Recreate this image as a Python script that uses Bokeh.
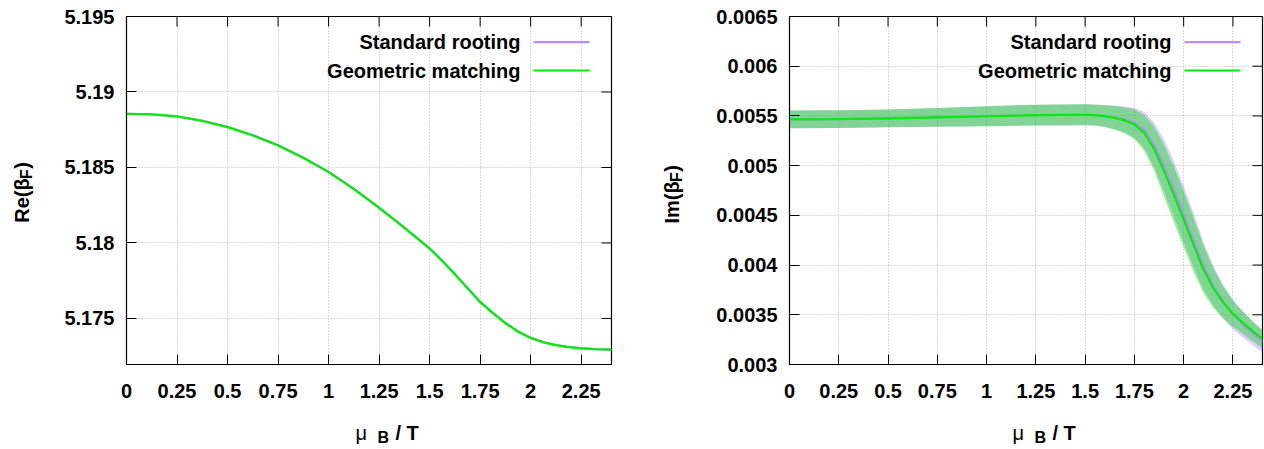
import numpy as np
from bokeh.plotting import figure
from bokeh.layouts import row, column
from bokeh.models import FixedTicker, Label, Arrow, Range1d
from bokeh.embed import file_html
from bokeh.resources import INLINE

# ---------------- data ----------------
x_re = [0.0, 0.125, 0.25, 0.375, 0.5, 0.625, 0.75, 0.875, 1.0, 1.125, 1.25,
        1.375, 1.5, 1.5625, 1.625, 1.6875, 1.75, 1.8125, 1.875, 1.9375, 2.0,
        2.0625, 2.125, 2.1875, 2.25, 2.325, 2.4]
re_geo = [5.18856, 5.18852, 5.18838, 5.18808, 5.18767, 5.18712, 5.18646, 5.18563,
          5.18469, 5.18357, 5.18233, 5.18100, 5.17962, 5.17880, 5.17792, 5.17700,
          5.17608, 5.17535, 5.17468, 5.17412, 5.17370, 5.17342, 5.17323, 5.17310,
          5.17302, 5.17296, 5.17293]
re_geo_err = [0.00002, 0.00002, 0.00002, 0.00002, 0.00002, 0.00002, 0.00002, 0.00002,
              0.00002, 0.00002, 0.00002, 0.000025, 0.000025, 0.000025, 0.00003, 0.00003,
              0.00003, 0.000035, 0.00004, 0.000045, 0.00005, 0.000055, 0.00006, 0.000065,
              0.00007, 0.00007, 0.00007]
re_std = [5.18856, 5.18852, 5.18839, 5.18810, 5.18769, 5.18715, 5.18649, 5.18566,
          5.18472, 5.18360, 5.18236, 5.18103, 5.17965, 5.17884, 5.17796, 5.17704,
          5.17612, 5.17539, 5.17472, 5.17415, 5.17373, 5.17344, 5.17324, 5.17311,
          5.17303, 5.17297, 5.17294]
re_std_err = [0.00002, 0.00002, 0.00002, 0.00002, 0.00002, 0.00002, 0.00002, 0.00002,
              0.00002, 0.00002, 0.00002, 0.000025, 0.000025, 0.000025, 0.00003, 0.00003,
              0.00003, 0.000035, 0.00004, 0.000045, 0.00005, 0.00005, 0.000055, 0.00006,
              0.00006, 0.00006, 0.00006]

x_im = [0.0, 0.25, 0.5, 0.75, 1.0, 1.25, 1.5, 1.55, 1.6, 1.65, 1.7, 1.75, 1.8,
        1.85, 1.9, 1.95, 2.0, 2.05, 2.1, 2.15, 2.2, 2.25, 2.3, 2.35, 2.4]
im_geo = [0.005465, 0.005468, 0.005475, 0.005485, 0.005497, 0.005508, 0.005512,
          0.005508, 0.005498, 0.005480, 0.005455, 0.005415, 0.005330, 0.005170,
          0.004950, 0.004710, 0.004460, 0.004205, 0.003960, 0.003770, 0.003625,
          0.003510, 0.003420, 0.003335, 0.003255]
im_geo_err = [0.00009, 0.00009, 0.00009, 0.000095, 0.0001, 0.000105, 0.000105,
              0.000105, 0.00011, 0.00012, 0.00013, 0.00015, 0.00018, 0.00022,
              0.00026, 0.00028, 0.00028, 0.00027, 0.00024, 0.0002, 0.00016,
              0.00013, 0.00011, 0.0001, 0.00009]
im_std = [0.005465, 0.005468, 0.005475, 0.005485, 0.005497, 0.005508, 0.005512,
          0.005509, 0.005501, 0.005486, 0.005465, 0.005432, 0.005360, 0.005215,
          0.005005, 0.004770, 0.004515, 0.004255, 0.004000, 0.003795, 0.003635,
          0.003505, 0.003405, 0.003315, 0.003230]
im_std_err = [0.00009, 0.00009, 0.00009, 0.000095, 0.0001, 0.000105, 0.000105,
              0.000105, 0.00011, 0.00012, 0.00013, 0.00015, 0.00018, 0.00022,
              0.00026, 0.00028, 0.00028, 0.00027, 0.00024, 0.0002, 0.00017,
              0.00015, 0.00013, 0.00012, 0.00011]

x_ticks = [0.0, 0.25, 0.5, 0.75, 1.0, 1.25, 1.5, 1.75, 2.0, 2.25]
x_tick_labels = ["0", "0.25", "0.5", "0.75", "1", "1.25", "1.5", "1.75", "2", "2.25"]
re_ticks = [5.175, 5.18, 5.185, 5.19, 5.195]
re_tick_labels = ["5.175", "5.18", "5.185", "5.19", "5.195"]
im_ticks = [0.003, 0.0035, 0.004, 0.0045, 0.005, 0.0055, 0.006, 0.0065]
im_tick_labels = ["0.003", "0.0035", "0.004", "0.0045", "0.005", "0.0055", "0.006", "0.0065"]
series_names = ["Standard rooting", "Geometric matching"]
x_max = 2.4

# ---------------- style ----------------
FONT = "Liberation Sans"
STD_FILL = "#ab82ff"
GEO_FILL = "#00dc00"
STD_LINE = "#bb8cff"
GEO_LINE = "#00ee00"
FRAME_H = 348
H1 = 410          # height of the plot row
H2 = 39           # height of the x-label row


def make_panel(width, left, right, yr, yticks, ylabels, xs, std, std_err,
               geo, geo_err, frame_w):
    p = figure(width=width, height=H1, output_backend="svg", toolbar_location=None,
               x_range=Range1d(0, x_max), y_range=Range1d(*yr),
               min_border_left=left, min_border_right=right,
               min_border_top=16, min_border_bottom=H1 - 16 - FRAME_H)
    p.background_fill_color = "white"
    p.border_fill_color = "white"
    p.outline_line_color = "black"
    p.outline_line_width = 1.2

    for g in p.grid:
        g.grid_line_color = "#b4b4b4"
        g.grid_line_dash = "1 2"
        g.grid_line_width = 1
    p.xgrid.ticker = FixedTicker(ticks=x_ticks)
    p.ygrid.ticker = FixedTicker(ticks=yticks)

    xs = np.array(xs)
    std = np.array(std); std_err = np.array(std_err)
    geo = np.array(geo); geo_err = np.array(geo_err)

    p.varea(x=xs, y1=std - std_err, y2=std + std_err, fill_color=STD_FILL, fill_alpha=0.4)
    p.varea(x=xs, y1=geo - geo_err, y2=geo + geo_err, fill_color=GEO_FILL, fill_alpha=0.41)
    p.line(xs, std, line_color=STD_LINE, line_width=2.2, line_join="round")
    p.line(xs, geo, line_color=GEO_LINE, line_width=2.2, line_join="round")

    for ax, ticks, labels in ((p.xaxis[0], x_ticks, x_tick_labels), (p.yaxis[0], yticks, ylabels)):
        ax.ticker = FixedTicker(ticks=ticks)
        ax.major_label_overrides = {t: l for t, l in zip(ticks, labels)}
        ax.major_label_text_font = FONT
        ax.major_label_text_font_style = "bold"
        ax.major_label_text_font_size = "20px"
        ax.major_label_text_color = "black"
        ax.major_tick_in = 10
        ax.major_tick_out = 0
        ax.minor_tick_line_color = None
        ax.axis_line_color = "black"
        ax.major_tick_line_color = "black"
    p.xaxis[0].major_label_standoff = 19
    p.yaxis[0].major_label_standoff = 12

    # mirrored (inward) ticks on the top and right edges, 10 px long
    p.ray(x=x_ticks, y=[yr[1]] * len(x_ticks), length=10, length_units="screen",
          angle=-np.pi / 2, line_color="black", line_width=1)
    p.ray(x=[x_max] * len(yticks), y=yticks, length=10, length_units="screen",
          angle=np.pi, line_color="black", line_width=1)

    # legend (text left of sample line, gnuplot style)
    for name, col, yy in ((series_names[0], STD_LINE, FRAME_H - 25.7),
                          (series_names[1], GEO_LINE, FRAME_H - 54)):
        p.add_layout(Label(x=frame_w - 91, y=yy, x_units="screen", y_units="screen", text=name,
                           text_font=FONT, text_font_style="bold", text_font_size="20px",
                           text_color="black", text_align="right", text_baseline="middle"))
        p.add_layout(Arrow(end=None, x_start=frame_w - 78, y_start=yy, x_end=frame_w - 22,
                           y_end=yy, start_units="screen", end_units="screen",
                           line_color=col, line_width=2.2))
    return p


def text_fig(w, h):
    f = figure(width=w, height=h, output_backend="svg", toolbar_location=None,
               x_range=Range1d(0, w), y_range=Range1d(0, h),
               x_axis_location=None, y_axis_location=None, min_border=0)
    f.outline_line_color = None
    f.background_fill_color = "white"
    f.border_fill_color = "white"
    for g in f.grid:
        g.visible = False
    return f


def lab(f, x, y, text, size="20px", bold=True, angle=0.0, align="center", baseline="middle"):
    f.add_layout(Label(x=x, y=y, x_units="screen", y_units="screen", text=text,
                       angle=angle, text_font=FONT,
                       text_font_style="bold" if bold else "normal",
                       text_font_size=size, text_color="black",
                       text_align=align, text_baseline=baseline))


def ylabel_fig(w, cx, main, c_main, c_sub, c_par):
    f = text_fig(w, H1)
    lab(f, cx, H1 - c_main, main, angle=np.pi / 2)
    lab(f, cx + 5, H1 - c_sub, "F", size="16px", angle=np.pi / 2)
    lab(f, cx, H1 - c_par, ")", angle=np.pi / 2)
    return f


def xlabel_fig(w, x0):
    f = text_fig(w, H2)
    lab(f, x0, 17, "μ", bold=False, align="left")
    lab(f, x0 + 22, 12.5, "B", size="16px", align="left")
    lab(f, x0 + 40, 17, "/ T", align="left")
    return f


p1 = make_panel(572, 66, 21, (5.17195, 5.195), re_ticks, re_tick_labels,
                x_re, re_std, re_std_err, re_geo, re_geo_err, 485)
p2 = make_panel(564, 89, 2, (0.003, 0.0065), im_ticks, im_tick_labels,
                x_im, im_std, im_std_err, im_geo, im_geo_err, 473)

yl1 = ylabel_fig(60, 21, "Re(β", 246, 219.5, 211)
yl2 = ylabel_fig(68, 39, "Im(β", 248, 222.5, 214)
xl1 = xlabel_fig(632, 355)
xl2 = xlabel_fig(632, 380)

layout = column(row(yl1, p1, yl2, p2), row(xl1, xl2))
open("out.html", "w").write(file_html(layout, INLINE))
